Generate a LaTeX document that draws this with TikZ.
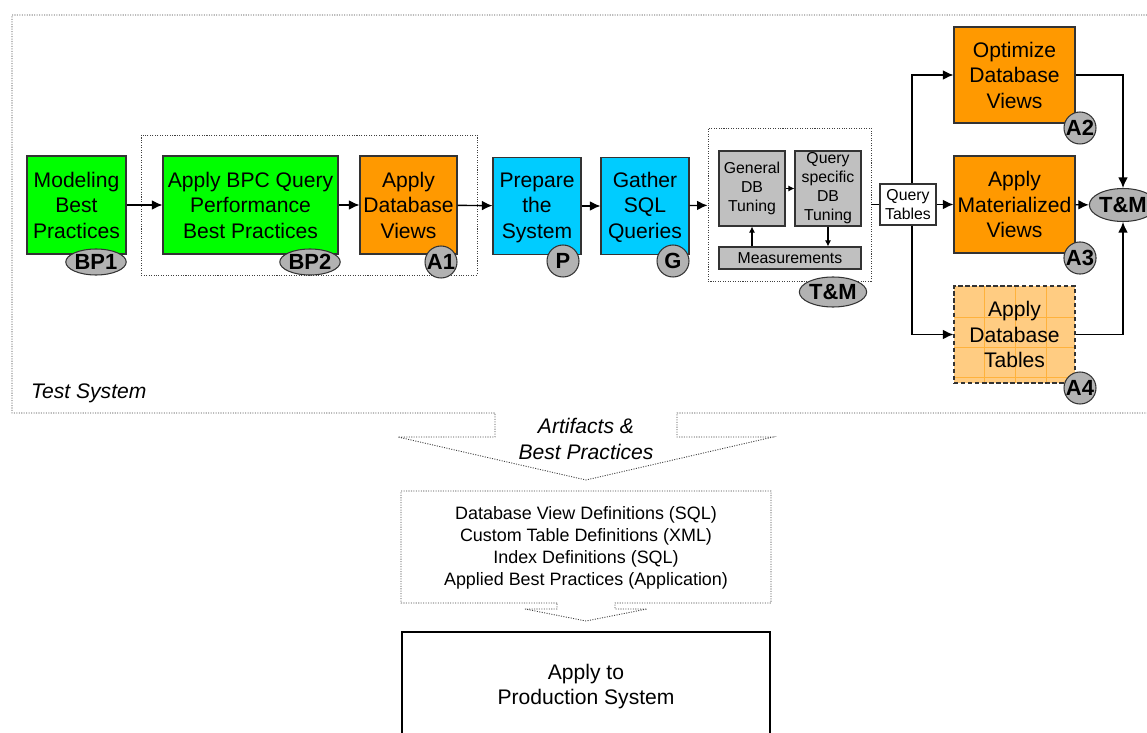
\documentclass[tikz,border=0pt]{standalone}
\usepackage{fontspec}
\setmainfont{Liberation Sans}
\usetikzlibrary{shapes.geometric,arrows.meta}
\definecolor{bpgreen}{RGB}{0,255,0}
\definecolor{aorange}{RGB}{255,153,0}
\definecolor{pcyan}{RGB}{0,204,255}
\definecolor{tgray}{RGB}{192,192,192}
\definecolor{bgray}{RGB}{178,178,178}
\definecolor{tabfill}{RGB}{255,204,130}
\definecolor{tabgrid}{RGB}{255,178,60}
\begin{document}
\begin{tikzpicture}[x=0.02cm,y=-0.02cm,
	box/.style={draw=black!80,line width=.6pt,align=center,inner sep=0pt,font=\fontsize{12}{14.5}\selectfont},
	small/.style={draw=black!80,line width=.6pt,fill=tgray,align=center,inner sep=0pt,font=\fontsize{9}{10.8}\selectfont},
	badge/.style={ellipse,draw=black!80,line width=.6pt,fill=bgray,inner sep=0pt,minimum height=.52cm,font=\fontsize{12.5}{12.5}\selectfont\bfseries},
	abadge/.style={badge,circle,minimum size=.64cm},
	dotline/.style={dash pattern=on .6pt off .8pt,line width=.5pt,black!75},
	flow/.style={-{Latex[length=6pt,width=5.5pt]},line width=.8pt},
	tiny/.style={-{Latex[length=3.5pt,width=3.5pt]},line width=.6pt},
	]
		\clip (0,0) rectangle (1147,733);
		\draw[dotline] (1147,15) -- (12,15) -- (12,413) -- (495,413) -- (495,437) -- (398,437) -- (586,480)
			-- (773,437) -- (677,437) -- (677,413) -- (1147,413);%test system + arrow
		\node[right,font=\fontsize{12}{14.5}\selectfont\itshape] (sys) at (25,393) {Test System};
		\node[align=center,font=\fontsize{12}{14.5}\selectfont\itshape] (art) at (586,439) {Artifacts \&\\Best Practices};
		
		\draw[dotline] (141,135) rectangle (477,275);
		\node[box,fill=bpgreen,minimum width=1.98cm,minimum height=1.96cm] (model) at (76.5,205) {Modeling\\Best\\Practices};
		\node[box,fill=bpgreen,minimum width=3.5cm,minimum height=1.96cm] (bpc) at (250.5,205) {Apply BPC Query\\Performance\\Best Practices};
		\node[box,fill=aorange,minimum width=1.94cm,minimum height=1.96cm] (view1) at (408.5,205) {Apply\\Database\\Views};
		\node[box,fill=pcyan,minimum width=1.76cm,minimum height=1.94cm] (prep) at (537,206) {\strut Prepare\\the\\System};
		\node[box,fill=pcyan,minimum width=1.76cm,minimum height=1.94cm] (gather) at (645,206) {\strut Gather\\SQL\\Queries};
		
		\node[draw,dotline,minimum width=3.26cm,minimum height=3.06cm] (tmbox) at (789.5,204.5) {};
		\node[small,minimum width=1.32cm,minimum height=1.5cm] (general) at (752,188.5) {General\\DB\\Tuning};
		\node[small,minimum width=1.32cm,minimum height=1.5cm] (qspec) at (828,188.5) {Query\\specific\\DB\\Tuning};
		\node[small,minimum width=2.84cm,minimum height=.44cm] (meas) at (790,258) {Measurements};
		\draw[tiny] (general) -- (qspec);
		\draw[tiny] (meas.north -| general) -- (general.south);
		\draw[tiny] (qspec.south) -- (qspec.south |- meas.north);
		
		\node[box,fill=white,minimum width=1.12cm,minimum height=.82cm,font=\fontsize{9}{10.8}\selectfont] (qtab) at (908,204.5) {Query\\Tables};
		\node[box,fill=aorange,minimum width=2.42cm,minimum height=1.92cm] (optv) at (1014.5,75) {Optimize\\Database\\Views};
		\node[box,fill=aorange,minimum width=2.42cm,minimum height=1.94cm] (matv) at (1014.5,204.5) {Apply\\Materialized\\Views};
		\fill[tabfill] (954,286) rectangle (1075,383);
		\foreach \k in {984,1015,1046}{
			\draw[tabgrid,line width=.4pt] (\k,286) to (\k,383);}
		\foreach \k in {317,347,377}{
			\draw[tabgrid,line width=.4pt] (954,\k) to (1075,\k);}
		\node[box,dash pattern=on 2.5pt off 1.5pt,minimum width=2.42cm,minimum height=1.94cm] (tabl) at (1014.5,334.5) {Apply\\Database\\Tables};
		
		% badges
		\node[badge,minimum width=1.06cm] (bp1) at (96,262) {BP1};
		\node[badge,minimum width=1.1cm] (bp2) at (310,262) {BP2};
		\node[abadge] (a1) at (441,262) {A1};
		\node[abadge] (p) at (563,261) {P};
		\node[abadge] (g) at (673,261) {G};
		\node[badge,minimum width=1.1cm,minimum height=.6cm] (tm1) at (833,292) {T\&M};
		\node[abadge] (a2) at (1080,128) {A2};
		\node[abadge] (a3) at (1080,258) {A3};
		\node[abadge] (a4) at (1080,388) {A4};
		\node[badge,minimum width=1.06cm,minimum height=.66cm] (tm2) at (1123,205) {T\&M};
		
		\draw[flow] (model) -- (bpc);
		\draw[flow] (bpc) -- (view1);
		\draw[flow] (view1) -- (prep);
		\draw[flow] (prep) -- (gather);
		\draw[flow] (gather) -- (tmbox);
		\draw[line width=.8pt] (tmbox) -- (qtab);
		\draw[flow] (qtab) -- (matv);
		\draw[flow] ([xshift=.08cm]qtab.north) |- (optv.west);
		\draw[flow] ([xshift=.08cm]qtab.south) |- (tabl.west);
		\draw[flow] (optv.east) -| (tm2.north);
		\draw[flow] (matv) -- (tm2);
		\draw[flow] (tabl.east) -| (tm2.south);
		
		\draw[dotline] (557,603) -- (401,603) -- (401,491) -- (771,491) -- (771,603) -- (615,603) -- (615,609)
			-- (647,609) -- (586,621) -- (525,609) -- (557,609) -- cycle;%definitions + arrow
		\node[align=center,font=\fontsize{10.2}{12.4}\selectfont] (defs) at (586,548) {Database View Definitions (SQL)\\Custom Table Definitions (XML)\\Index Definitions (SQL)\\Applied Best Practices (Application)};
		\draw[line width=.6pt] (402,740) -- (402,632) -- (770,632) -- (770,740);
		\node[align=center,font=\fontsize{12}{14.5}\selectfont] (prod) at (586,686.5) {Apply to\\Production System};
	\end{tikzpicture}
\end{document}
